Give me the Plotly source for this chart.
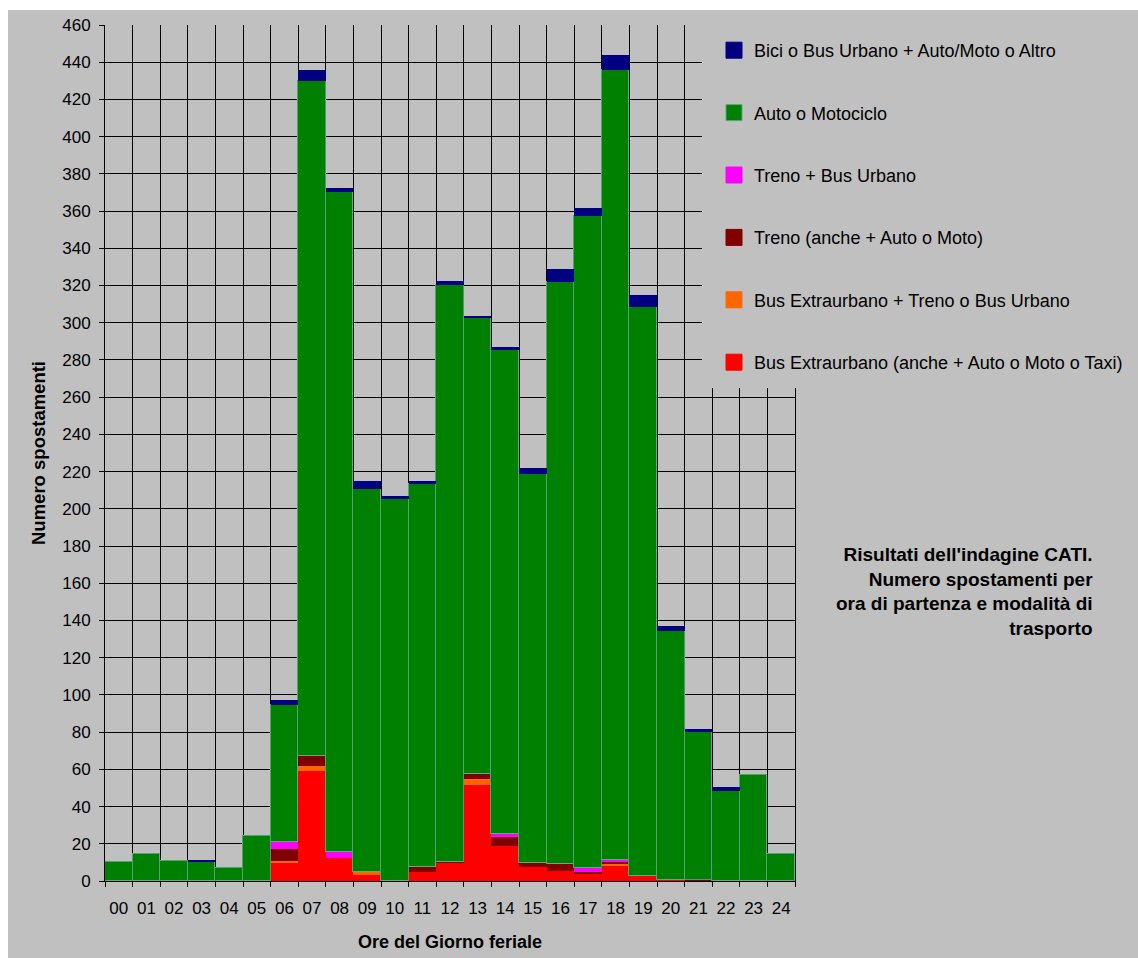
import plotly.graph_objects as go

hours = ["00", "01", "02", "03", "04", "05", "06", "07", "08", "09", "10", "11", "12",
         "13", "14", "15", "16", "17", "18", "19", "20", "21", "22", "23", "24"]
positions = list(range(len(hours)))

bus_extra = [0, 0, 0, 0, 0, 0, 10, 59, 12.5, 3, 0, 4.8, 9.7, 51.8, 19, 7.4, 5.6, 4.1, 8.4, 2.5, 0.5, 0.5, 0, 0, 0]
bus_extra_treno = [0, 0, 0, 0, 0, 0, 1, 3, 0, 2, 0, 0, 0, 2.8, 0, 0, 0, 0, 1, 0, 0, 0, 0, 0, 0]
treno = [0, 0, 0, 0, 0, 0, 6, 5.3, 0, 0, 0, 2.7, 0.5, 2.7, 4.5, 2.1, 3.7, 0.9, 0.9, 0, 0, 0.3, 0, 0, 0]
treno_bus = [0, 0, 0, 0, 0, 0, 4, 0, 3.3, 0, 0, 0, 0, 0, 1.8, 0, 0, 1.8, 1, 0, 0, 0, 0, 0, 0]
auto_moto = [10, 14.5, 11, 10, 7, 24, 73.6, 362.4, 354.3, 205.7, 205.3, 205.7, 310.1, 245, 260.2,
             209.1, 312.5, 350.5, 424.6, 306.1, 133.6, 79.1, 48.6, 57, 14.5]
bici_altro = [0, 0, 0, 1.5, 0, 0, 2.7, 6.1, 2.3, 4.1, 1.4, 1.6, 2.3, 1.5, 1.4, 3.4, 7.1, 4.5, 7.9,
              6.1, 3.2, 1.8, 1.8, 0, 0]

series_names = [
    "Bus Extraurbano (anche + Auto o Moto o Taxi)",
    "Bus Extraurbano + Treno o Bus Urbano",
    "Treno (anche + Auto o Moto)",
    "Treno + Bus Urbano",
    "Auto o Motociclo",
    "Bici o Bus Urbano + Auto/Moto o Altro",
]
series_values = [bus_extra, bus_extra_treno, treno, treno_bus, auto_moto, bici_altro]
series_colors = ["#FF0000", "#FF6600", "#800000", "#FF00FF", "#008000", "#000080"]

FONT = "Liberation Sans, Arial, sans-serif"
GRAY = "#C0C0C0"
OUTLINE = "rgba(90,165,130,0.9)"

fig = go.Figure()

for name, vals, col in zip(series_names, series_values, series_colors):
    is_green = col == "#008000"
    fig.add_trace(go.Bar(
        x=positions, y=vals, name=name, marker_color=col,
        marker_line=dict(color=OUTLINE if is_green else col, width=1.2 if is_green else 0),
        width=1, showlegend=False, legendgroup=name,
    ))

# legend entries (display order: top of stack first)
for name, col in reversed(list(zip(series_names, series_colors))):
    fig.add_trace(go.Scatter(
        x=[None], y=[None], mode="markers", name=name, legendgroup=name,
        marker=dict(symbol="square", size=19, color=col,
                    line=dict(width=1, color=OUTLINE if col == "#008000" else col)),
    ))

L, R, T, B = 105, 343, 25, 77
W, H = 1138, 958
pw, ph = W - L - R, H - T - B

def px_x(p):
    return (p - L) / pw

def px_y(p):
    return (H - B - p) / ph

fig.update_layout(
    width=W, height=H,
    margin=dict(l=L, r=R, t=T, b=B, autoexpand=False),
    paper_bgcolor="white", plot_bgcolor=GRAY,
    barmode="stack", bargap=0,
    font=dict(family=FONT, size=17, color="black"),
    showlegend=True,
    legend=dict(
        x=px_x(714), y=px_y(32), xanchor="left", yanchor="top",
        bgcolor=GRAY, borderwidth=0, traceorder="grouped",
        tracegroupgap=36, itemsizing="trace",
        font=dict(family=FONT, size=18, color="black"),
    ),
    xaxis=dict(
        range=[-0.5, 24.5], tickmode="array", tickvals=positions, ticktext=hours,
        ticks="", showgrid=False, zeroline=False,
        showline=True, linecolor="black", linewidth=1,
        tickfont=dict(size=17), ticklabelstandoff=12,
        minor=dict(tick0=-0.5, dtick=1, ticks="outside", ticklen=5, tickcolor="black",
                   showgrid=True, gridcolor="black", gridwidth=1),
        title=dict(text="<b>Ore del Giorno feriale</b>", font=dict(size=18), standoff=17),
        fixedrange=True,
    ),
    yaxis=dict(
        range=[0, 460], dtick=20, ticks="outside", ticklen=5, tickcolor="black",
        showgrid=True, gridcolor="black", gridwidth=1, zeroline=False,
        showline=True, linecolor="black", linewidth=1, mirror=True,
        tickfont=dict(size=17), ticklabelstandoff=5,
        title=dict(text="<b>Numero spostamenti</b>", font=dict(size=18.5), standoff=11),
        fixedrange=True,
    ),
    shapes=[
        dict(type="rect", xref="paper", yref="paper",
             x0=px_x(8), x1=px_x(1150), y0=px_y(970), y1=px_y(10),
             fillcolor=GRAY, line=dict(width=0), layer="below"),
        dict(type="rect", xref="paper", yref="paper",
             x0=px_x(702), x1=px_x(1150), y0=px_y(388), y1=px_y(10),
             fillcolor=GRAY, line=dict(width=0), layer="above"),
    ],
    annotations=[
        dict(xref="paper", yref="paper", x=px_x(1095), y=px_y(591),
             xanchor="right", yanchor="middle", align="right", showarrow=False,
             text="<b>Risultati dell'indagine CATI.<br>Numero spostamenti per<br>"
                  "ora di partenza e modalità di<br>trasporto</b>",
             font=dict(family=FONT, size=19, color="black")),
    ],
)

fig.write_html("out.html")
